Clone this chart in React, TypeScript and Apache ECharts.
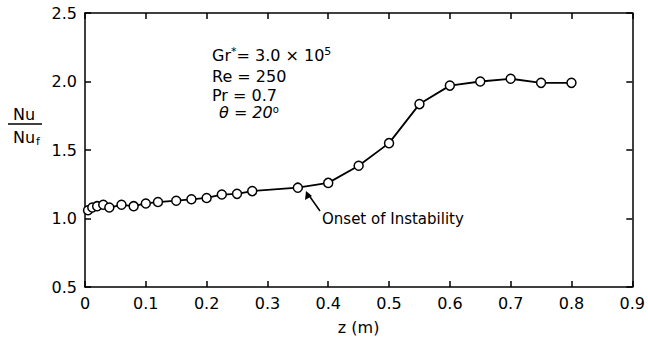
import React, { useEffect, useRef } from "react";
import * as echarts from "echarts";

const zVals = [0.005, 0.012, 0.02, 0.03, 0.04, 0.06, 0.08, 0.1, 0.12, 0.15, 0.175, 0.2, 0.225, 0.25, 0.275, 0.35, 0.4, 0.45, 0.5, 0.55, 0.6, 0.65, 0.7, 0.75, 0.8];
const nuRatio = [1.06, 1.08, 1.09, 1.1, 1.08, 1.1, 1.09, 1.11, 1.12, 1.13, 1.14, 1.15, 1.175, 1.18, 1.2, 1.225, 1.26, 1.385, 1.55, 1.835, 1.97, 2.0, 2.02, 1.99, 1.99];

const paramLines = ["Re = 250", "Pr = 0.7"];
const annotationText = "Onset of Instability";
const xTitle = "z (m)";

const FONT = "DejaVu Sans";

export default function App() {
  const ref = useRef<HTMLDivElement>(null);
  useEffect(() => {
    document.body.style.margin = "0";
    const chart = echarts.init(ref.current!, null, { renderer: "svg" });
    const axisCommon = {
      type: "value",
      axisLine: { show: true, onZero: false, lineStyle: { color: "#000", width: 1.5 } },
      axisTick: { show: true, inside: true, length: 6, lineStyle: { color: "#000", width: 1.5 } },
      splitLine: { show: false },
    };
    const labelStyle = { color: "#000", fontSize: 16, fontFamily: FONT };
    chart.setOption({
      animation: false,
      backgroundColor: "#fff",
      grid: { left: 85, top: 13, width: 554, height: 274, containLabel: false },
      xAxis: [
        {
          ...axisCommon,
          position: "bottom",
          min: 0,
          max: 0.9,
          interval: 0.1,
          axisLabel: {
            ...labelStyle,
            margin: 8,
            formatter: (v: number) => (v === 0 ? "0" : v.toFixed(1)),
          },
          name: xTitle,
          nameLocation: "middle",
          nameGap: 32,
          nameTextStyle: { ...labelStyle },
        },
        {
          ...axisCommon,
          position: "top",
          min: 0,
          max: 0.9,
          interval: 0.1,
          axisLabel: { show: false },
        },
      ],
      yAxis: [
        {
          ...axisCommon,
          position: "left",
          min: 0.5,
          max: 2.5,
          interval: 0.5,
          axisLabel: { ...labelStyle, margin: 8, formatter: (v: number) => v.toFixed(1) },
        },
        {
          ...axisCommon,
          position: "right",
          min: 0.5,
          max: 2.5,
          interval: 0.5,
          axisLabel: { show: false },
        },
      ],
      series: [
        {
          type: "line",
          data: zVals.map((z, i) => [z, nuRatio[i]]),
          symbol: "circle",
          symbolSize: 9,
          lineStyle: { color: "#000", width: 1.8 },
          itemStyle: { color: "#fff", borderColor: "#000", borderWidth: 1.5 },
          z: 3,
        },
      ],
      graphic: [
        {
          type: "text",
          left: 13,
          top: 106,
          style: { text: "Nu", font: `16px ${FONT}`, fill: "#000" },
        },
        {
          type: "line",
          shape: { x1: 8, y1: 124, x2: 42, y2: 124 },
          style: { stroke: "#000", lineWidth: 1.5 },
        },
        {
          type: "text",
          left: 13,
          top: 128,
          style: {
            text: "{a|Nu}{b|f}",
            rich: {
              a: { font: `16px ${FONT}`, fill: "#000", lineHeight: 16 },
              b: { font: `11px ${FONT}`, fill: "#000", padding: [8, 0, 0, 1], lineHeight: 11 },
            },
          },
        },
        {
          type: "text",
          left: 212,
          top: 46,
          style: {
            text: "{a|Gr}{s|*}{a|= 3.0 × 10}{s|5}",
            rich: {
              a: { font: `16px ${FONT}`, fill: "#000", lineHeight: 16 },
              s: { font: `11px ${FONT}`, fill: "#000", lineHeight: 11, padding: [0, 0, 8, 0] },
            },
          },
        },
        {
          type: "text",
          left: 212,
          top: 68,
          style: { text: paramLines[0], font: `16px ${FONT}`, fill: "#000", lineHeight: 16 },
        },
        {
          type: "text",
          left: 212,
          top: 87,
          style: { text: paramLines[1], font: `16px ${FONT}`, fill: "#000", lineHeight: 16 },
        },
        {
          type: "text",
          left: 219,
          top: 104,
          style: {
            text: "{a|θ = 20}{s|o}",
            rich: {
              a: { font: `italic 16px ${FONT}`, fill: "#000", lineHeight: 16 },
              s: { font: `10px ${FONT}`, fill: "#000", lineHeight: 10, padding: [0, 0, 7, 0] },
            },
          },
        },
        {
          type: "text",
          left: 322,
          top: 211,
          style: { text: annotationText, font: `15px ${FONT}`, fill: "#000" },
        },
        {
          type: "line",
          shape: { x1: 320, y1: 211, x2: 308, y2: 194 },
          style: { stroke: "#000", lineWidth: 1.5 },
        },
        {
          type: "polygon",
          shape: { points: [[306, 191], [305, 200], [312, 196]] },
          style: { fill: "#000" },
        },
      ],
    });
    return () => chart.dispose();
  }, []);
  return <div ref={ref} style={{ width: 648, height: 341 }} />;
}
